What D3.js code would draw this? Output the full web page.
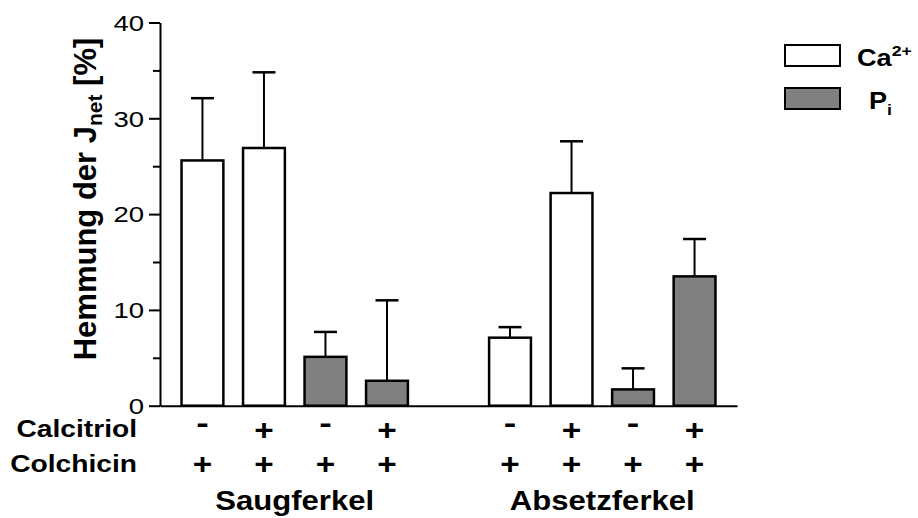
<!DOCTYPE html>
<html>
<head>
<meta charset="utf-8">
<script src="https://cdn.jsdelivr.net/npm/d3@7"></script>
<style>
  body { margin: 0; background: #fff; }
  svg { display: block; font-family: "Liberation Sans", Arial, sans-serif; }
</style>
</head>
<body>
<div id="chart"></div>
<script>
const width = 918;
const height = 518;

// data
const groups = ["Saugferkel", "Absetzferkel"];
const barGroup = ["Saugferkel", "Saugferkel", "Saugferkel", "Saugferkel",
  "Absetzferkel", "Absetzferkel", "Absetzferkel", "Absetzferkel"];
const ions = ["Ca", "Ca", "Pi", "Pi", "Ca", "Ca", "Pi", "Pi"];
const calcitriol = ["-", "+", "-", "+", "-", "+", "-", "+"];
const colchicin = ["+", "+", "+", "+", "+", "+", "+", "+"];
const means = [25.6, 26.9, 5.1, 2.6, 7.1, 22.2, 1.7, 13.5];
const sem = [6.5, 7.9, 2.6, 8.4, 1.1, 5.4, 2.2, 3.9];
const yTicks = [0, 10, 20, 30, 40];
const yMinorTicks = [5, 15, 25, 35];

const ionFill = { Ca: "#ffffff", Pi: "#808080" };

const bars = means.map((m, i) => ({
  key: barGroup[i] + "-" + i,
  group: barGroup[i],
  ion: ions[i],
  calcitriol: calcitriol[i],
  colchicin: colchicin[i],
  mean: m,
  sem: sem[i]
}));

// one empty slot between the two groups
const slots = bars.slice(0, 4).map(d => d.key)
  .concat(["gap"])
  .concat(bars.slice(4).map(d => d.key));

const svg = d3.select("#chart").append("svg")
  .attr("width", width)
  .attr("height", height);

const x = d3.scaleBand()
  .domain(slots)
  .range([160, 737])
  .paddingInner(0.32)
  .paddingOuter(0.35);

const y = d3.scaleLinear()
  .domain([0, 40])
  .range([405.7, 22.5]);

// text stretched a bit wider, like the original export
function stretchedText(sel, px, py, sx, txt, size, weight, anchor) {
  return sel.append("text")
    .attr("transform", `translate(${px},${py}) scale(${sx},1)`)
    .attr("font-size", size)
    .attr("font-weight", weight)
    .attr("text-anchor", anchor)
    .attr("fill", "#000")
    .text(txt);
}

// y axis
const yAxis = svg.append("g")
  .attr("transform", "translate(160,0)")
  .call(d3.axisLeft(y).tickValues(yTicks).tickSize(11).tickSizeOuter(0));
yAxis.select(".domain").attr("stroke-width", 2);
yAxis.selectAll(".tick line").attr("stroke-width", 2);
yAxis.selectAll(".tick text")
  .attr("x", 0)
  .attr("dy", "0.36em")
  .attr("transform", "translate(-16,0) scale(1.28,1)")
  .attr("font-size", 21.5)
  .attr("font-family", "Liberation Sans, Arial, sans-serif")
  .attr("fill", "#000");

const yMinor = svg.append("g")
  .attr("transform", "translate(160,0)")
  .call(d3.axisLeft(y).tickValues(yMinorTicks).tickSize(7).tickFormat(""));
yMinor.select(".domain").remove();
yMinor.selectAll(".tick line").attr("stroke-width", 2);

// x axis (baseline only)
const xAxis = svg.append("g")
  .attr("transform", `translate(0,${y(0)})`)
  .call(d3.axisBottom(x).tickValues([]).tickSizeOuter(0));
xAxis.select(".domain").attr("stroke-width", 2);

// y title
const yTitle = svg.append("text")
  .attr("transform", "translate(96,199) rotate(-90)")
  .attr("text-anchor", "middle")
  .attr("font-size", 31)
  .attr("font-weight", "bold")
  .attr("fill", "#000");
yTitle.append("tspan").text("Hemmung der J");
yTitle.append("tspan").attr("font-size", 21).attr("dy", 6).text("net");
yTitle.append("tspan").attr("dy", -6).text(" [%]");

// error bars (upper only)
const capW = 23;
const err = svg.append("g");
err.selectAll("line.stem")
  .data(bars)
  .join("line")
  .attr("class", "stem")
  .attr("x1", d => x(d.key) + x.bandwidth() / 2)
  .attr("x2", d => x(d.key) + x.bandwidth() / 2)
  .attr("y1", d => y(d.mean))
  .attr("y2", d => y(d.mean + d.sem))
  .attr("stroke", "#000")
  .attr("stroke-width", 2);
err.selectAll("line.cap")
  .data(bars)
  .join("line")
  .attr("class", "cap")
  .attr("x1", d => x(d.key) + x.bandwidth() / 2 - capW / 2)
  .attr("x2", d => x(d.key) + x.bandwidth() / 2 + capW / 2)
  .attr("y1", d => y(d.mean + d.sem))
  .attr("y2", d => y(d.mean + d.sem))
  .attr("stroke", "#000")
  .attr("stroke-width", 2.5);

// bars
svg.append("g")
  .selectAll("rect")
  .data(bars)
  .join("rect")
  .attr("x", d => x(d.key))
  .attr("y", d => y(d.mean))
  .attr("width", x.bandwidth())
  .attr("height", d => y(0) - y(d.mean))
  .attr("fill", d => ionFill[d.ion])
  .attr("stroke", "#000")
  .attr("stroke-width", 2.5);

// treatment rows
const rows = svg.append("g");
stretchedText(rows, 137, 437, 1.2, "Calcitriol", 23.5, "bold", "end");
stretchedText(rows, 137, 472, 1.2, "Colchicin", 23.5, "bold", "end");
bars.forEach(d => {
  const cx = x(d.key) + x.bandwidth() / 2;
  const sign = d.calcitriol === "-";
  stretchedText(rows, cx, sign ? 433 : 440, sign ? 1.3 : 1.15, d.calcitriol, 29, "bold", "middle");
  stretchedText(rows, cx, 474, 1.15, d.colchicin, 29, "bold", "middle");
});

// group labels
groups.forEach(g => {
  const keys = bars.filter(d => d.group === g).map(d => d.key);
  const cx = (x(keys[0]) + x(keys[keys.length - 1]) + x.bandwidth()) / 2;
  stretchedText(rows, cx, 510, 1.11, g, 28, "bold", "middle");
});

// legend
const legend = svg.append("g");
const legendItems = [
  { ion: "Ca", main: "Ca", extra: "2+", shift: -10, y: 45, tx: 857 },
  { ion: "Pi", main: "P", extra: "i", shift: 6, y: 88, tx: 869 }
];
legend.selectAll("rect")
  .data(legendItems)
  .join("rect")
  .attr("x", 785)
  .attr("y", d => d.y)
  .attr("width", 55)
  .attr("height", 21)
  .attr("fill", d => ionFill[d.ion])
  .attr("stroke", "#000")
  .attr("stroke-width", 2);
legendItems.forEach(d => {
  const t = legend.append("text")
    .attr("transform", `translate(${d.tx},${d.y + 21}) scale(1.18,1)`)
    .attr("font-size", 23)
    .attr("font-weight", "bold")
    .attr("fill", "#000");
  t.append("tspan").text(d.main);
  t.append("tspan").attr("font-size", 15).attr("dy", d.shift).text(d.extra);
});
</script>
</body>
</html>
